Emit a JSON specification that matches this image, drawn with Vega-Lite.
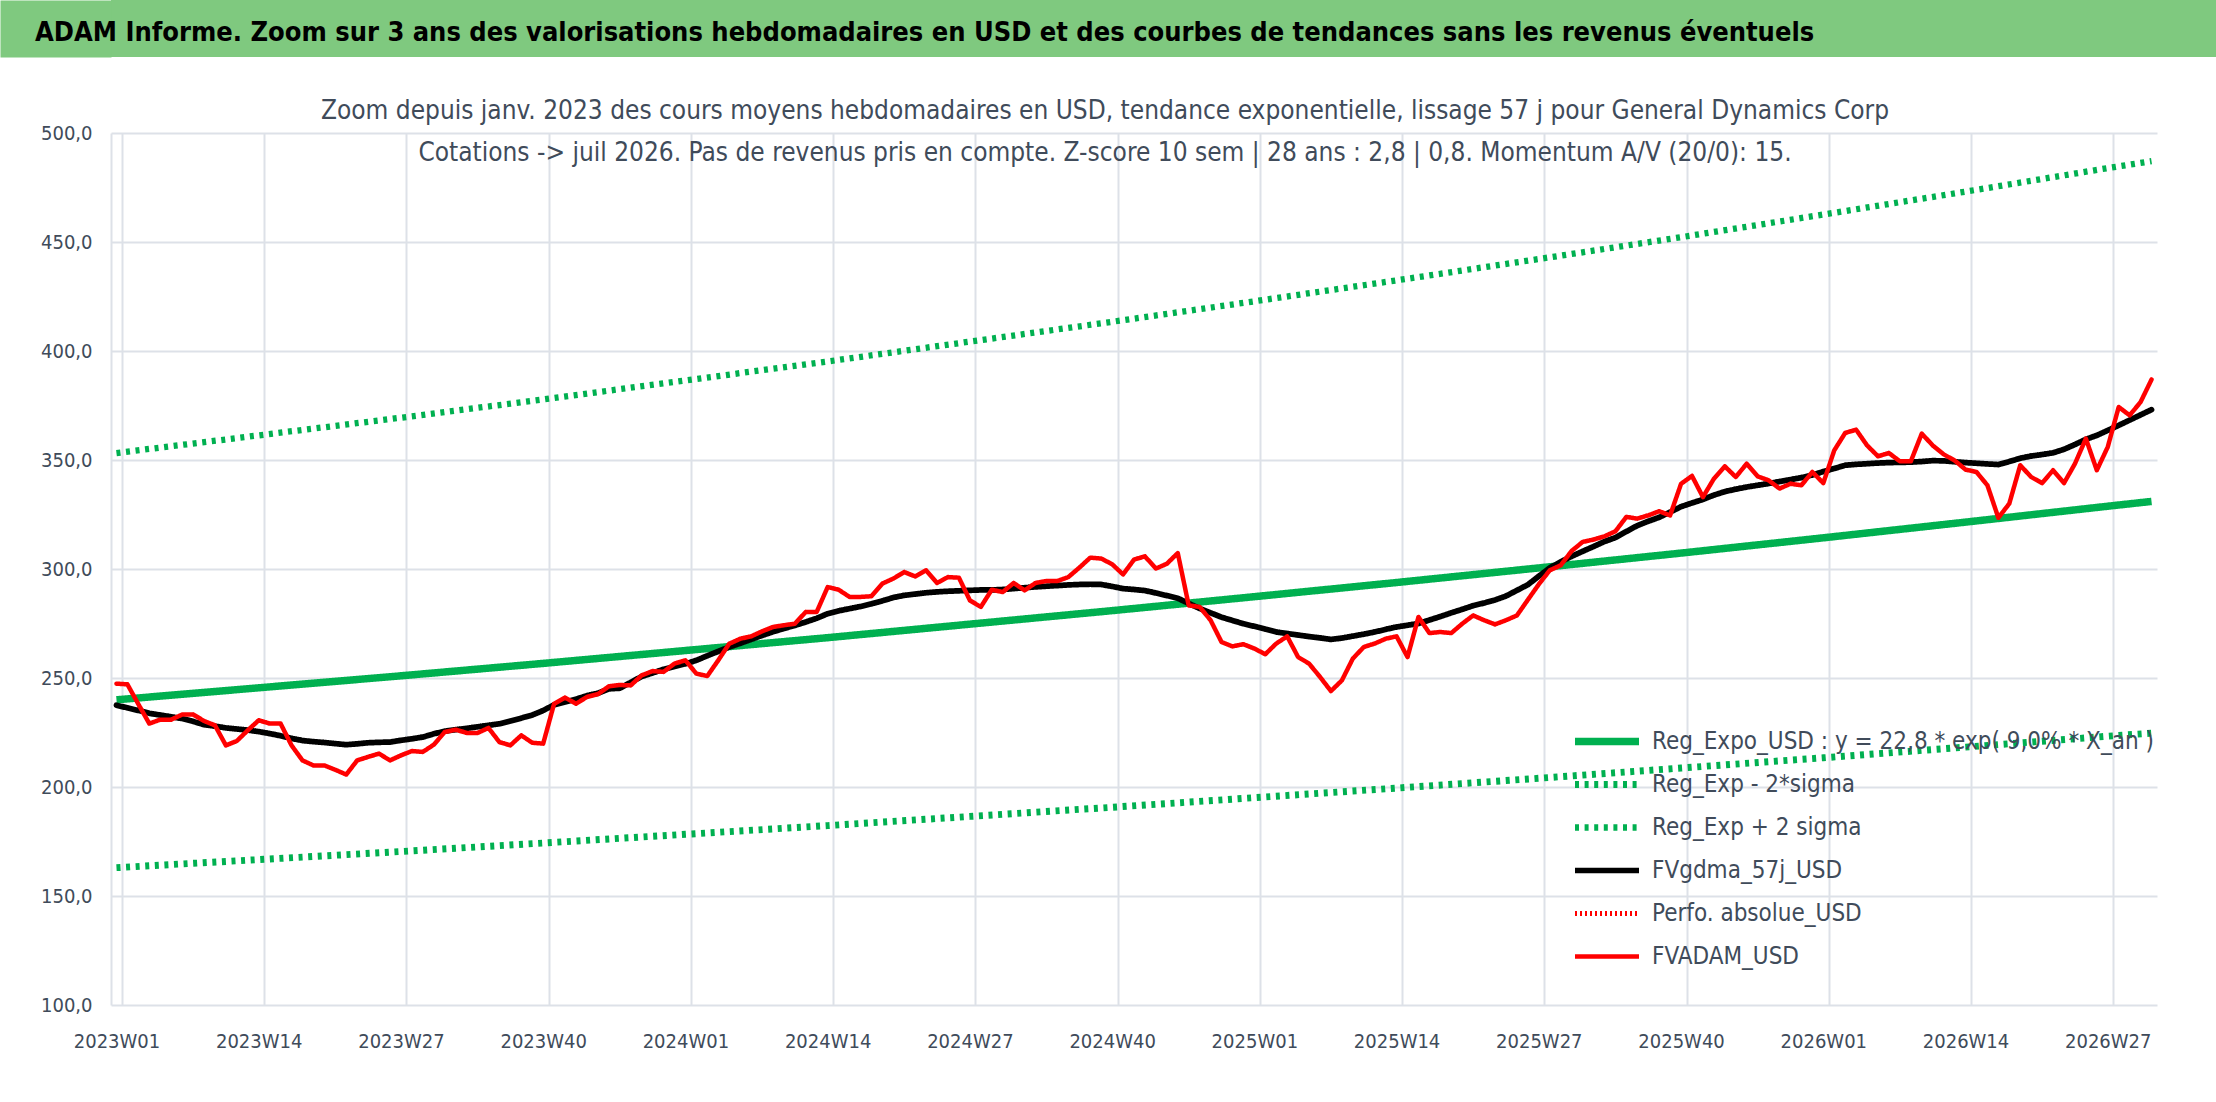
{
  "$schema": "https://vega.github.io/schema/vega-lite/v6.json",
  "padding": 0,
  "background": "white",
  "spacing": 41,
  "config": {
    "font": "DejaVu Sans Condensed, DejaVu Sans, sans-serif",
    "view": {"stroke": null},
    "axis": {
      "labelFont": "DejaVu Sans Condensed, DejaVu Sans, sans-serif",
      "labelColor": "#404b5a",
      "labelFontSize": 20,
      "gridColor": "#dde1e8",
      "gridWidth": 2,
      "ticks": false,
      "domain": false,
      "title": null
    },
    "legend": {
      "labelFont": "DejaVu Sans Condensed, DejaVu Sans, sans-serif",
      "labelColor": "#404b5a"
    }
  },
  "vconcat": [
    {
      "width": 2105,
      "height": 57,
      "view": {"fill": "#7fc97f", "stroke": null},
      "data": {"values": []},
      "mark": "text",
      "encoding": {
        "y": {
          "field": "a",
          "type": "quantitative",
          "scale": {"domain": [0, 1]},
          "axis": {
            "domain": true,
            "domainColor": "#7fc97f",
            "domainWidth": 111,
            "offset": 55.5,
            "labels": false,
            "ticks": false,
            "grid": false,
            "minExtent": 0
          }
        }
      },
      "title": {
        "text": "ADAM Informe. Zoom sur 3 ans des valorisations hebdomadaires en USD et des courbes de tendances sans les revenus éventuels",
        "orient": "bottom",
        "anchor": "start",
        "frame": "group",
        "offset": -16,
        "dx": -76,
        "baseline": "alphabetic",
        "fontSize": 27,
        "fontWeight": "bold",
        "color": "#000000"
      }
    },
    {
      "width": 2046,
      "height": 872,
      "view": {"stroke": null},
      "title": {
        "text": [
          "Zoom depuis janv. 2023 des cours moyens hebdomadaires en USD, tendance exponentielle, lissage 57 j pour General Dynamics Corp",
          "Cotations -> juil 2026. Pas de revenus pris en compte. Z-score 10 sem | 28 ans : 2,8 | 0,8. Momentum A/V (20/0): 15."
        ],
        "anchor": "middle",
        "frame": "group",
        "dx": -29,
        "offset": -56,
        "baseline": "middle",
        "lineHeight": 42,
        "fontSize": 26,
        "fontWeight": "normal",
        "color": "#404b5a"
      },
      "encoding": {
        "x": {
          "field": "w",
          "type": "ordinal",
          "sort": "ascending",
          "scale": {"type": "band", "paddingInner": 0, "paddingOuter": 0},
          "axis": {
            "values": ["2023W01", "2023W14", "2023W27", "2023W40", "2024W01", "2024W14", "2024W27", "2024W40", "2025W01", "2025W14", "2025W27", "2025W40", "2026W01", "2026W14", "2026W27"],
            "tickBand": "extent",
            "grid": true,
            "labelAngle": 0,
            "labelPadding": 26,
            "labelOverlap": false
          }
        },
        "y": {
          "field": "v",
          "type": "quantitative",
          "scale": {"domain": [100, 500], "nice": false, "zero": false},
          "axis": {
            "values": [100, 150, 200, 250, 300, 350, 400, 450, 500],
            "labelPadding": 19,
            "minExtent": 111,
            "labelExpr": "replace(format(datum.value, '.1f'), '.', ',')"
          }
        },
        "color": {
          "field": "k",
          "type": "nominal",
          "scale": {
            "domain": ["reg", "lo", "hi", "gdma", "perfo", "adam"],
            "range": ["#00b050", "#00b050", "#00b050", "#000000", "#ff0000", "#ff0000"]
          },
          "legend": {
            "orient": "none",
            "legendX": 1460,
            "legendY": 720,
            "title": null,
            "labelFontSize": 24,
            "labelLimit": 900,
            "symbolType": "stroke",
            "symbolSize": 4096,
            "labelOffset": 9,
            "clipHeight": 43,
            "rowPadding": 0,
            "padding": 0,
            "labelExpr": "datum.label == 'reg' ? 'Reg_Expo_USD : y = 22,8 * exp( 9,0% * X_an )' : datum.label == 'lo' ? 'Reg_Exp - 2*sigma' : datum.label == 'hi' ? 'Reg_Exp + 2 sigma' : datum.label == 'gdma' ? 'FVgdma_57j_USD' : datum.label == 'perfo' ? 'Perfo. absolue_USD' : 'FVADAM_USD'"
          }
        },
        "strokeDash": {
          "field": "k",
          "type": "nominal",
          "scale": {
            "domain": ["reg", "lo", "hi", "gdma", "perfo", "adam"],
            "range": [[1, 0], [4, 5.6], [4, 5.6], [1, 0], [2, 3], [1, 0]]
          }
        },
        "strokeWidth": {
          "field": "k",
          "type": "nominal",
          "scale": {
            "domain": ["reg", "lo", "hi", "gdma", "perfo", "adam"],
            "range": [7.5, 4.5, 4.5, 4.5, 2.5, 5.5]
          }
        }
      },
      "layer": [
        {
          "data": {
            "values": [
              {"w": "2023W01", "reg": 240.0, "lo": 163.0, "hi": 353.2},
              {"w": "2023W14", "reg": 245.5, "lo": 166.7, "hi": 361.3},
              {"w": "2023W27", "reg": 251.0, "lo": 170.4, "hi": 369.4},
              {"w": "2023W40", "reg": 256.7, "lo": 174.3, "hi": 377.8},
              {"w": "2024W01", "reg": 262.6, "lo": 178.3, "hi": 386.5},
              {"w": "2024W14", "reg": 268.5, "lo": 182.3, "hi": 395.2},
              {"w": "2024W27", "reg": 274.7, "lo": 186.5, "hi": 404.3},
              {"w": "2024W40", "reg": 280.9, "lo": 190.7, "hi": 413.4},
              {"w": "2025W01", "reg": 287.3, "lo": 195.1, "hi": 422.8},
              {"w": "2025W14", "reg": 293.8, "lo": 199.5, "hi": 432.4},
              {"w": "2025W27", "reg": 300.5, "lo": 204.0, "hi": 442.2},
              {"w": "2025W40", "reg": 307.3, "lo": 208.7, "hi": 452.2},
              {"w": "2026W01", "reg": 314.3, "lo": 213.4, "hi": 462.6},
              {"w": "2026W14", "reg": 321.5, "lo": 218.3, "hi": 473.1},
              {"w": "2026W27", "reg": 328.8, "lo": 223.3, "hi": 483.9},
              {"w": "2026W31", "reg": 331.0, "lo": 224.7, "hi": 487.1}
            ]
          },
          "transform": [{"fold": ["reg", "lo", "hi"], "as": ["k", "v"]}],
          "mark": {"type": "line", "strokeCap": "butt", "strokeJoin": "round"}
        },
        {
          "data": {
            "values": [
              {"w": "2023W01", "adam": 247.4, "gdma": 237.5},
              {"w": "2023W02", "adam": 247.1, "gdma": 236.3},
              {"w": "2023W03", "adam": 238.0, "gdma": 235.1},
              {"w": "2023W04", "adam": 229.1, "gdma": 233.8},
              {"w": "2023W05", "adam": 230.9, "gdma": 233.0},
              {"w": "2023W06", "adam": 230.9, "gdma": 232.2},
              {"w": "2023W07", "adam": 233.2, "gdma": 231.4},
              {"w": "2023W08", "adam": 233.3, "gdma": 230.1},
              {"w": "2023W09", "adam": 230.3, "gdma": 228.6},
              {"w": "2023W10", "adam": 228.3, "gdma": 227.9},
              {"w": "2023W11", "adam": 219.1, "gdma": 227.1},
              {"w": "2023W12", "adam": 221.1, "gdma": 226.6},
              {"w": "2023W13", "adam": 226.0, "gdma": 226.1},
              {"w": "2023W14", "adam": 230.6, "gdma": 225.4},
              {"w": "2023W15", "adam": 229.1, "gdma": 224.5},
              {"w": "2023W16", "adam": 229.1, "gdma": 223.5},
              {"w": "2023W17", "adam": 219.1, "gdma": 222.3},
              {"w": "2023W18", "adam": 212.2, "gdma": 221.3},
              {"w": "2023W19", "adam": 209.9, "gdma": 220.8},
              {"w": "2023W20", "adam": 209.9, "gdma": 220.4},
              {"w": "2023W21", "adam": 207.9, "gdma": 219.9},
              {"w": "2023W22", "adam": 205.7, "gdma": 219.4},
              {"w": "2023W23", "adam": 212.2, "gdma": 219.8},
              {"w": "2023W24", "adam": 213.8, "gdma": 220.3},
              {"w": "2023W25", "adam": 215.3, "gdma": 220.5},
              {"w": "2023W26", "adam": 212.2, "gdma": 220.6},
              {"w": "2023W27", "adam": 214.5, "gdma": 221.4},
              {"w": "2023W28", "adam": 216.5, "gdma": 222.1},
              {"w": "2023W29", "adam": 216.1, "gdma": 222.9},
              {"w": "2023W30", "adam": 219.4, "gdma": 224.4},
              {"w": "2023W31", "adam": 225.2, "gdma": 225.6},
              {"w": "2023W32", "adam": 226.3, "gdma": 226.3},
              {"w": "2023W33", "adam": 224.8, "gdma": 226.9},
              {"w": "2023W34", "adam": 224.8, "gdma": 227.6},
              {"w": "2023W35", "adam": 227.1, "gdma": 228.3},
              {"w": "2023W36", "adam": 220.6, "gdma": 229.0},
              {"w": "2023W37", "adam": 219.1, "gdma": 230.3},
              {"w": "2023W38", "adam": 223.7, "gdma": 231.6},
              {"w": "2023W39", "adam": 220.3, "gdma": 233.0},
              {"w": "2023W40", "adam": 219.9, "gdma": 235.1},
              {"w": "2023W41", "adam": 238.2, "gdma": 237.7},
              {"w": "2023W42", "adam": 241.0, "gdma": 239.0},
              {"w": "2023W43", "adam": 238.2, "gdma": 240.3},
              {"w": "2023W44", "adam": 241.3, "gdma": 241.9},
              {"w": "2023W45", "adam": 242.6, "gdma": 243.0},
              {"w": "2023W46", "adam": 246.2, "gdma": 245.0},
              {"w": "2023W47", "adam": 246.8, "gdma": 245.3},
              {"w": "2023W48", "adam": 246.6, "gdma": 248.0},
              {"w": "2023W49", "adam": 251.2, "gdma": 250.7},
              {"w": "2023W50", "adam": 253.2, "gdma": 252.3},
              {"w": "2023W51", "adam": 252.8, "gdma": 254.0},
              {"w": "2023W52", "adam": 256.6, "gdma": 255.3},
              {"w": "2024W01", "adam": 258.1, "gdma": 256.5},
              {"w": "2024W02", "adam": 252.0, "gdma": 258.1},
              {"w": "2024W03", "adam": 250.9, "gdma": 260.2},
              {"w": "2024W04", "adam": 258.1, "gdma": 262.2},
              {"w": "2024W05", "adam": 265.7, "gdma": 264.2},
              {"w": "2024W06", "adam": 268.0, "gdma": 265.9},
              {"w": "2024W07", "adam": 269.1, "gdma": 267.7},
              {"w": "2024W08", "adam": 271.4, "gdma": 269.5},
              {"w": "2024W09", "adam": 273.4, "gdma": 271.2},
              {"w": "2024W10", "adam": 274.2, "gdma": 272.7},
              {"w": "2024W11", "adam": 274.9, "gdma": 274.1},
              {"w": "2024W12", "adam": 280.3, "gdma": 275.7},
              {"w": "2024W13", "adam": 280.3, "gdma": 277.4},
              {"w": "2024W14", "adam": 291.7, "gdma": 279.5},
              {"w": "2024W15", "adam": 290.5, "gdma": 280.8},
              {"w": "2024W16", "adam": 287.2, "gdma": 281.8},
              {"w": "2024W17", "adam": 287.2, "gdma": 282.8},
              {"w": "2024W18", "adam": 287.5, "gdma": 284.0},
              {"w": "2024W19", "adam": 293.3, "gdma": 285.4},
              {"w": "2024W20", "adam": 295.6, "gdma": 286.9},
              {"w": "2024W21", "adam": 298.6, "gdma": 287.9},
              {"w": "2024W22", "adam": 296.6, "gdma": 288.5},
              {"w": "2024W23", "adam": 299.4, "gdma": 289.1},
              {"w": "2024W24", "adam": 293.6, "gdma": 289.5},
              {"w": "2024W25", "adam": 296.3, "gdma": 289.8},
              {"w": "2024W26", "adam": 296.0, "gdma": 290.0},
              {"w": "2024W27", "adam": 285.6, "gdma": 290.2},
              {"w": "2024W28", "adam": 282.6, "gdma": 290.4},
              {"w": "2024W29", "adam": 290.5, "gdma": 290.4},
              {"w": "2024W30", "adam": 289.4, "gdma": 290.6},
              {"w": "2024W31", "adam": 293.6, "gdma": 291.0},
              {"w": "2024W32", "adam": 290.2, "gdma": 291.4},
              {"w": "2024W33", "adam": 293.6, "gdma": 291.8},
              {"w": "2024W34", "adam": 294.5, "gdma": 292.1},
              {"w": "2024W35", "adam": 294.5, "gdma": 292.4},
              {"w": "2024W36", "adam": 296.3, "gdma": 292.7},
              {"w": "2024W37", "adam": 300.6, "gdma": 292.9},
              {"w": "2024W38", "adam": 305.2, "gdma": 293.0},
              {"w": "2024W39", "adam": 304.8, "gdma": 292.9},
              {"w": "2024W40", "adam": 302.2, "gdma": 292.0},
              {"w": "2024W41", "adam": 297.5, "gdma": 291.0},
              {"w": "2024W42", "adam": 304.3, "gdma": 290.6},
              {"w": "2024W43", "adam": 305.8, "gdma": 290.1},
              {"w": "2024W44", "adam": 300.2, "gdma": 289.0},
              {"w": "2024W45", "adam": 302.4, "gdma": 287.8},
              {"w": "2024W46", "adam": 307.3, "gdma": 286.6},
              {"w": "2024W47", "adam": 283.3, "gdma": 284.2},
              {"w": "2024W48", "adam": 282.6, "gdma": 281.9},
              {"w": "2024W49", "adam": 276.5, "gdma": 279.9},
              {"w": "2024W50", "adam": 266.5, "gdma": 277.9},
              {"w": "2024W51", "adam": 264.5, "gdma": 276.4},
              {"w": "2024W52", "adam": 265.5, "gdma": 274.9},
              {"w": "2025W01", "adam": 263.5, "gdma": 273.7},
              {"w": "2025W02", "adam": 260.9, "gdma": 272.4},
              {"w": "2025W03", "adam": 265.8, "gdma": 271.1},
              {"w": "2025W04", "adam": 269.1, "gdma": 270.4},
              {"w": "2025W05", "adam": 259.6, "gdma": 269.7},
              {"w": "2025W06", "adam": 256.6, "gdma": 269.0},
              {"w": "2025W07", "adam": 250.5, "gdma": 268.4},
              {"w": "2025W08", "adam": 244.0, "gdma": 267.7},
              {"w": "2025W09", "adam": 248.9, "gdma": 268.3},
              {"w": "2025W10", "adam": 258.9, "gdma": 269.2},
              {"w": "2025W11", "adam": 264.2, "gdma": 270.1},
              {"w": "2025W12", "adam": 265.8, "gdma": 271.1},
              {"w": "2025W13", "adam": 268.0, "gdma": 272.3},
              {"w": "2025W14", "adam": 269.1, "gdma": 273.4},
              {"w": "2025W15", "adam": 259.6, "gdma": 274.2},
              {"w": "2025W16", "adam": 278.0, "gdma": 275.0},
              {"w": "2025W17", "adam": 270.6, "gdma": 276.6},
              {"w": "2025W18", "adam": 271.1, "gdma": 278.2},
              {"w": "2025W19", "adam": 270.6, "gdma": 279.9},
              {"w": "2025W20", "adam": 274.9, "gdma": 281.5},
              {"w": "2025W21", "adam": 278.7, "gdma": 283.2},
              {"w": "2025W22", "adam": 276.5, "gdma": 284.4},
              {"w": "2025W23", "adam": 274.6, "gdma": 285.8},
              {"w": "2025W24", "adam": 276.5, "gdma": 287.6},
              {"w": "2025W25", "adam": 278.7, "gdma": 290.2},
              {"w": "2025W26", "adam": 285.9, "gdma": 292.8},
              {"w": "2025W27", "adam": 293.0, "gdma": 296.7},
              {"w": "2025W28", "adam": 299.4, "gdma": 300.5},
              {"w": "2025W29", "adam": 301.7, "gdma": 303.3},
              {"w": "2025W30", "adam": 308.3, "gdma": 305.8},
              {"w": "2025W31", "adam": 312.4, "gdma": 308.1},
              {"w": "2025W32", "adam": 313.5, "gdma": 310.3},
              {"w": "2025W33", "adam": 315.0, "gdma": 312.6},
              {"w": "2025W34", "adam": 317.3, "gdma": 314.4},
              {"w": "2025W35", "adam": 323.9, "gdma": 317.2},
              {"w": "2025W36", "adam": 323.1, "gdma": 319.9},
              {"w": "2025W37", "adam": 324.6, "gdma": 321.9},
              {"w": "2025W38", "adam": 326.5, "gdma": 323.7},
              {"w": "2025W39", "adam": 324.6, "gdma": 326.1},
              {"w": "2025W40", "adam": 339.1, "gdma": 328.6},
              {"w": "2025W41", "adam": 342.7, "gdma": 330.3},
              {"w": "2025W42", "adam": 333.0, "gdma": 331.9},
              {"w": "2025W43", "adam": 341.4, "gdma": 333.9},
              {"w": "2025W44", "adam": 347.1, "gdma": 335.5},
              {"w": "2025W45", "adam": 342.2, "gdma": 336.6},
              {"w": "2025W46", "adam": 348.3, "gdma": 337.6},
              {"w": "2025W47", "adam": 342.5, "gdma": 338.4},
              {"w": "2025W48", "adam": 340.7, "gdma": 339.2},
              {"w": "2025W49", "adam": 336.9, "gdma": 340.1},
              {"w": "2025W50", "adam": 339.1, "gdma": 341.0},
              {"w": "2025W51", "adam": 338.4, "gdma": 341.9},
              {"w": "2025W52", "adam": 344.5, "gdma": 343.1},
              {"w": "2026W01", "adam": 339.4, "gdma": 344.7},
              {"w": "2026W02", "adam": 354.4, "gdma": 346.1},
              {"w": "2026W03", "adam": 362.4, "gdma": 347.6},
              {"w": "2026W04", "adam": 363.9, "gdma": 348.0},
              {"w": "2026W05", "adam": 356.7, "gdma": 348.3},
              {"w": "2026W06", "adam": 351.7, "gdma": 348.6},
              {"w": "2026W07", "adam": 353.2, "gdma": 348.8},
              {"w": "2026W08", "adam": 349.4, "gdma": 348.9},
              {"w": "2026W09", "adam": 349.4, "gdma": 349.0},
              {"w": "2026W10", "adam": 362.1, "gdma": 349.3},
              {"w": "2026W11", "adam": 356.7, "gdma": 349.7},
              {"w": "2026W12", "adam": 352.6, "gdma": 349.6},
              {"w": "2026W13", "adam": 349.8, "gdma": 349.2},
              {"w": "2026W14", "adam": 345.6, "gdma": 348.8},
              {"w": "2026W15", "adam": 344.5, "gdma": 348.5},
              {"w": "2026W16", "adam": 338.4, "gdma": 348.2},
              {"w": "2026W17", "adam": 323.5, "gdma": 347.9},
              {"w": "2026W18", "adam": 330.0, "gdma": 349.3},
              {"w": "2026W19", "adam": 347.6, "gdma": 350.8},
              {"w": "2026W20", "adam": 342.2, "gdma": 351.8},
              {"w": "2026W21", "adam": 339.4, "gdma": 352.5},
              {"w": "2026W22", "adam": 345.3, "gdma": 353.3},
              {"w": "2026W23", "adam": 339.4, "gdma": 354.9},
              {"w": "2026W24", "adam": 348.3, "gdma": 357.1},
              {"w": "2026W25", "adam": 359.8, "gdma": 359.5},
              {"w": "2026W26", "adam": 345.3, "gdma": 361.3},
              {"w": "2026W27", "adam": 356.0, "gdma": 363.6},
              {"w": "2026W28", "adam": 374.3, "gdma": 365.9},
              {"w": "2026W29", "adam": 370.5, "gdma": 368.3},
              {"w": "2026W30", "adam": 376.6, "gdma": 370.7},
              {"w": "2026W31", "adam": 386.9, "gdma": 373.1}
            ]
          },
          "transform": [{"fold": ["gdma", "adam"], "as": ["k", "v"]}],
          "mark": {"type": "line", "strokeCap": "round", "strokeJoin": "round"}
        }
      ]
    }
  ]
}
